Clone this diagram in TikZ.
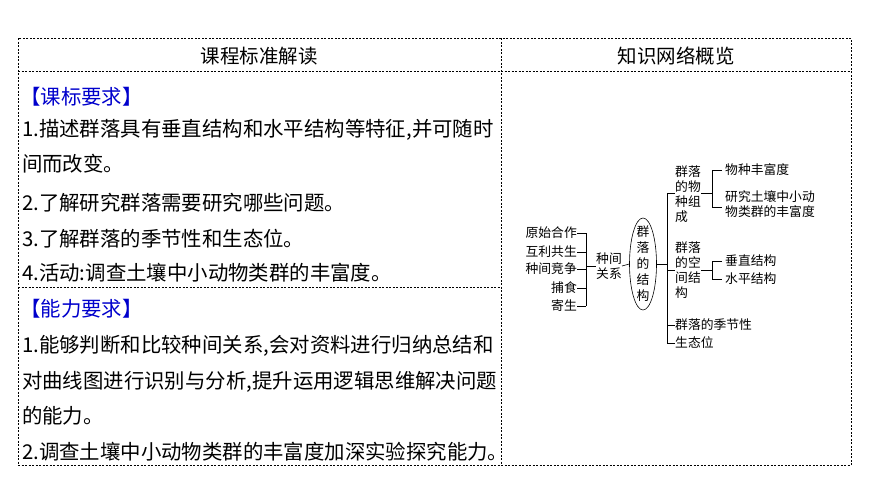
\documentclass[tikz,border=0pt]{standalone}
\usepackage{fontspec}
\usetikzlibrary{shapes.geometric}
\setmainfont{Noto Sans CJK SC}
\begin{document}
\begin{tikzpicture}[x=1pt,y=-1pt,
  tl/.style={anchor=west,inner sep=0,font=\fontsize{20.4}{20}\selectfont},
  hd/.style={inner sep=0,font=\fontsize{19.5}{19}\selectfont},
  sm/.style={inner sep=0,font=\fontsize{12.8}{13}\selectfont},
  ln/.style={line width=0.6pt},
  dl/.style={dashed,line width=0.5pt,dash pattern=on 2pt off 1.5pt}]
\useasboundingbox (0,0) rectangle (870,488);
\draw[dl] (18,38) rectangle (851,465);
\draw[dl] (501,38) -- (501,465);
\draw[dl] (18,71) -- (851,71);
\draw[dl] (18,287) -- (501,287);
\node[hd] (h1) at (259,56) {课程标准解读};
\node[hd] (h2) at (676,56) {知识网络概览};
\node[tl,text=blue!80!black] (a0) at (20,97) {【课标要求】};
\node[tl] (a1) at (22,130) {1.描述群落具有垂直结构和水平结构等特征,并可随时};
\node[tl] (a2) at (22,164) {间而改变。};
\node[tl] (a3) at (22,203) {2.了解研究群落需要研究哪些问题。};
\node[tl] (a4) at (22,239) {3.了解群落的季节性和生态位。};
\node[tl] (a5) at (22,273) {4.活动:调查土壤中小动物类群的丰富度。};
\node[tl,text=blue!80!black] (b0) at (20,309) {【能力要求】};
\node[tl] (b1) at (22,346) {1.能够判断和比较种间关系,会对资料进行归纳总结和};
\node[tl] (b2) at (22,382) {对曲线图进行识别与分析,提升运用逻辑思维解决问题};
\node[tl] (b3) at (22,416) {的能力。};
\node[tl] (b4) at (22,452) {2.调查土壤中小动物类群的丰富度加深实验探究能力。};
% right diagram
\foreach \t/\y/\n in {原始合作/233/l1,互利共生/252/l2,种间竞争/269/l3,捕食/288/l4,寄生/306/l5}{
  \node[sm,anchor=east] (\n) at (577,\y) {\t};
  \draw[ln] (\n.east) -- (586,\y);
}
\draw[ln] (586,233) -- (586,306);
\node[sm,align=center] (zj) at (609,266) {种间\\[2pt]关系};
\draw[ln] (586,266) -- (zj.west);
\node[draw,ln,ellipse,minimum width=27pt,minimum height=92pt,inner sep=0] (el) at (643,264) {};
\node[sm,align=center] (elt) at (643,264) {群\\[3pt]落\\[3pt]的\\[3pt]结\\[3pt]构};
\draw[ln] (zj.east) -- (el.west);
\draw[ln] (el.east) -- (667,264);
\draw[ln] (667,193) -- (667,343) -- (675,343);
\node[sm,align=left,anchor=west] (c1) at (675,194) {群落\\[2pt]的物\\[2pt]种组\\[2pt]成};
\node[sm,align=left,anchor=west] (c2) at (675,270) {群落\\[2pt]的空\\[2pt]间结\\[2pt]构};
\node[sm,anchor=west] (c3) at (675,325) {群落的季节性};
\node[sm,anchor=west] (c4) at (675,343) {生态位};
\draw[ln] (667,193) -- (675,193);
\draw[ln] (667,270) -- (675,270);
\draw[ln] (667,325) -- (675,325);
% sub bracket 1
\draw[ln] (c1.east |- 0,193) -- (712,193);
\draw[ln] (722,170) -- (712,170) -- (712,207) -- (722,207);
\node[sm,anchor=west] (d1) at (725,170) {物种丰富度};
\node[sm,anchor=west,align=left] (d2) at (725,204) {研究土壤中小动\\[2pt]物类群的丰富度};
% sub bracket 2
\draw[ln] (c2.east |- 0,270) -- (712,270);
\draw[ln] (722,261) -- (712,261) -- (712,279) -- (722,279);
\node[sm,anchor=west] (e1) at (725,261) {垂直结构};
\node[sm,anchor=west] (e2) at (725,279) {水平结构};
\end{tikzpicture}
\end{document}
